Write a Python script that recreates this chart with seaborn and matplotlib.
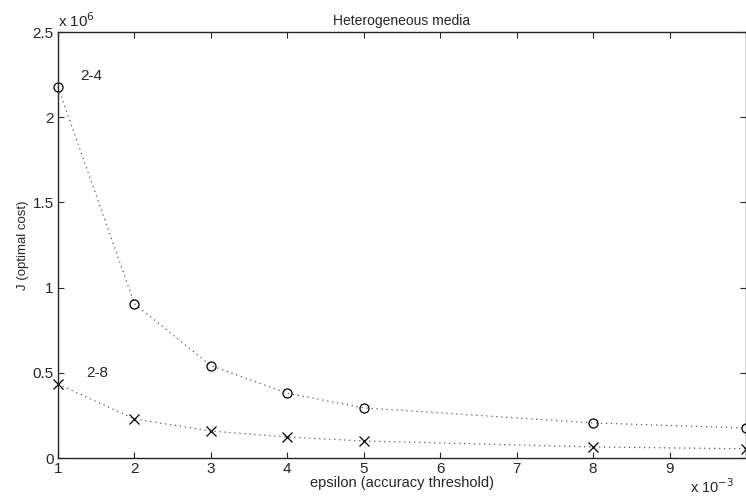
import matplotlib
matplotlib.use("Agg")
import matplotlib.pyplot as plt
import seaborn as sns
import pandas as pd
from matplotlib.ticker import FuncFormatter

epsilon = [0.001, 0.002, 0.003, 0.004, 0.005, 0.008, 0.010]
cost_2_4 = [2.177e6, 0.905e6, 0.542e6, 0.380e6, 0.294e6, 0.206e6, 0.176e6]
cost_2_8 = [0.434e6, 0.229e6, 0.158e6, 0.123e6, 0.100e6, 0.065e6, 0.054e6]
xticks = [0.001, 0.002, 0.003, 0.004, 0.005, 0.006, 0.007, 0.008, 0.009, 0.010]
yticks = [0, 0.5e6, 1.0e6, 1.5e6, 2.0e6, 2.5e6]

sns.set_style("ticks")
plt.rcParams['font.family'] = ['Liberation Sans', 'DejaVu Sans']
plt.rcParams['xtick.direction'] = 'in'
plt.rcParams['ytick.direction'] = 'in'

fig = plt.figure(figsize=(7.46, 4.97), dpi=100)
ax = fig.add_axes([58/746, 1 - 458/497, 688/746, (458 - 32)/497])

df = pd.DataFrame({"eps": epsilon, "a": cost_2_4, "b": cost_2_8})
sns.lineplot(data=df, x="eps", y="a", ax=ax, color="0.35", linestyle=(0, (1, 3)),
             linewidth=0.9, marker="o", markersize=6.5, markerfacecolor="none",
             markeredgecolor="black", markeredgewidth=0.9, clip_on=False)
sns.lineplot(data=df, x="eps", y="b", ax=ax, color="0.35", linestyle=(0, (1, 3)),
             linewidth=0.9, marker="x", markersize=6.5,
             markeredgecolor="black", markeredgewidth=0.9, clip_on=False)

ax.set_xlim(0.001, 0.010)
ax.set_ylim(0, 2.5e6)
ax.set_xticks(xticks)
ax.set_yticks(yticks)
ax.xaxis.set_major_formatter(FuncFormatter(lambda v, p: "" if abs(v - 0.010) < 1e-9 else f"{v*1e3:g}"))
ax.yaxis.set_major_formatter(FuncFormatter(lambda v, p: f"{v/1e6:g}"))
ax.tick_params(labelsize=11, length=4, width=0.8, top=True, right=True, pad=3)
for s in ax.spines.values():
    s.set_linewidth(1.0)
    s.set_visible(True)

ax.set_xlabel("epsilon (accuracy threshold)", fontsize=10.5, labelpad=0)
ax.set_ylabel("J (optimal cost)", fontsize=9.5, labelpad=3)
ax.set_title("Heterogeneous media", fontsize=10, pad=5)

ax.text(0.0, 1.005, r"x 10$^{6}$", transform=ax.transAxes, fontsize=11, ha="left", va="bottom")
fig.text(690/746, 1 - 487/497, r"x 10$^{-3}$", fontsize=10.5, ha="left", va="center")

ax.annotate("2-4", xy=(0.001, 2.177e6), xytext=(0.00129, 2.20e6), fontsize=11, ha="left", va="bottom")
ax.annotate("2-8", xy=(0.001, 0.434e6), xytext=(0.00137, 0.455e6), fontsize=11, ha="left", va="bottom")

fig.savefig("out.png", dpi=100)
